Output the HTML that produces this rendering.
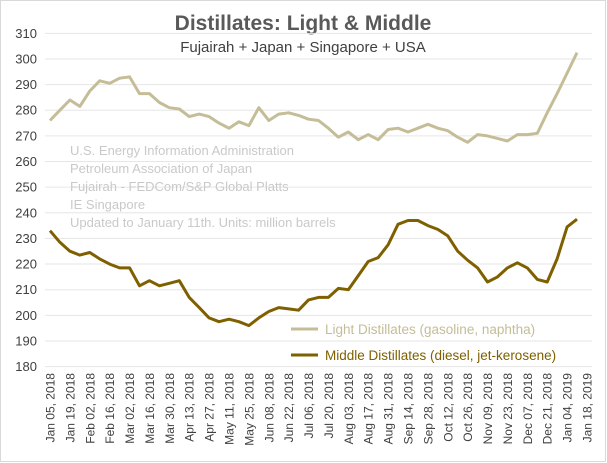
<!DOCTYPE html>
<html><head><meta charset="utf-8"><style>
body{margin:0;background:#fff;}
svg{display:block;font-family:"Liberation Sans",Arial,sans-serif;}
</style></head><body>
<svg id="chart" width="607" height="463" viewBox="0 0 607 463">
<rect x="0.5" y="0.5" width="605" height="461" fill="#fff" stroke="#d9d9d9"/>
<text x="303" y="30" text-anchor="middle" font-size="21" font-weight="bold" fill="#595959">Distillates: Light &amp; Middle</text>
<text x="303" y="52" text-anchor="middle" font-size="15" fill="#404040">Fujairah + Japan + Singapore + USA</text>
<g id="grid"></g>
<g id="yticks"></g>
<g id="xticks"></g>
<g font-size="13" fill="#c9c9c9">
<text x="70" y="155">U.S. Energy Information Administration</text>
<text x="70" y="173">Petroleum Association of Japan</text>
<text x="70" y="191">Fujairah - FEDCom/S&amp;P Global Platts</text>
<text x="70" y="209">IE Singapore</text>
<text x="70" y="227">Updated to January 11th. Units: million barrels</text>
</g>
<path id="lightLine" fill="none" stroke="#c4bd97" stroke-width="3" stroke-linejoin="round"/>
<path id="middleLine" fill="none" stroke="#7f6000" stroke-width="3" stroke-linejoin="round"/>
<g>
<line x1="291" y1="329" x2="318" y2="329" stroke="#c4bd97" stroke-width="3"/>
<text x="325" y="334" font-size="13.5" fill="#c4bd97">Light Distillates (gasoline, naphtha)</text>
</g>
<g>
<line x1="291" y1="355" x2="318" y2="355" stroke="#7f6000" stroke-width="3"/>
<text x="325" y="360" font-size="13.5" fill="#7f6000">Middle Distillates (diesel, jet-kerosene)</text>
</g>
</svg>
<script>
const tickLabels=["Jan 05, 2018","Jan 19, 2018","Feb 02, 2018","Feb 16, 2018","Mar 02, 2018","Mar 16, 2018","Mar 30, 2018","Apr 13, 2018","Apr 27, 2018","May 11, 2018","May 25, 2018","Jun 08, 2018","Jun 22, 2018","Jul 06, 2018","Jul 20, 2018","Aug 03, 2018","Aug 17, 2018","Aug 31, 2018","Sep 14, 2018","Sep 28, 2018","Oct 12, 2018","Oct 26, 2018","Nov 09, 2018","Nov 23, 2018","Dec 07, 2018","Dec 21, 2018","Jan 04, 2019","Jan 18, 2019"];
const yTicks=[180,190,200,210,220,230,240,250,260,270,280,290,300,310];
const lightValues=[276,280,284,281.5,287.5,291.5,290.5,292.5,293,286.5,286.5,283,281,280.5,277.5,278.5,277.5,275,273,275.5,274,281,276,278.5,279,278,276.5,276,273,269.5,271.5,268.5,270.5,268.5,272.5,273,271.5,273,274.5,273,272,269.5,267.5,270.5,270,269,268,270.5,270.5,271,279,286.5,294.5,302.5];
const middleValues=[233,228.5,225,223.5,224.5,222,220,218.5,218.5,211.5,213.5,211.5,212.5,213.5,207,203,199,197.5,198.5,197.5,196,199,201.5,203,202.5,202,206,207,207,210.5,210,215.5,221,222.5,227.5,235.5,237,237,235,233.5,231,225,221.5,218.5,213,215,218.5,220.5,218.5,214,213,222,234.5,237.5];
const NS="http://www.w3.org/2000/svg";
const x=i=>50+i*9.944;
const y=v=>366.6-(v-180)*2.5636;
const grid=document.getElementById('grid'),yt=document.getElementById('yticks'),xt=document.getElementById('xticks');
yTicks.forEach(v=>{
 const l=document.createElementNS(NS,'line');
 
 
 l.setAttribute('x1',45);l.setAttribute('x2',592);l.setAttribute('y1',y(v));l.setAttribute('y2',y(v));
 l.setAttribute('stroke','#e6e6e6');l.setAttribute('stroke-width','1');grid.appendChild(l);
 const t=document.createElementNS(NS,'text');
 
 
 t.setAttribute('x',37);t.setAttribute('y',y(v)+4.5);t.setAttribute('text-anchor','end');
 t.setAttribute('font-size','13');t.setAttribute('fill','#404040');t.textContent=v;yt.appendChild(t);
});
tickLabels.forEach((s,k)=>{
 const px=x(k*2);
 const t=document.createElementNS(NS,'text');
 
 
 t.setAttribute('transform','translate('+(px+4.5)+',373) rotate(-90)');
 t.setAttribute('text-anchor','end');t.setAttribute('font-size','12');t.setAttribute('fill','#404040');
 t.textContent=s;xt.appendChild(t);
});
const path=a=>a.map((v,i)=>(i?'L':'M')+x(i).toFixed(1)+' '+y(v).toFixed(1)).join(' ');
document.getElementById('lightLine').setAttribute('d',path(lightValues));
document.getElementById('middleLine').setAttribute('d',path(middleValues));
</script>
</body></html>
